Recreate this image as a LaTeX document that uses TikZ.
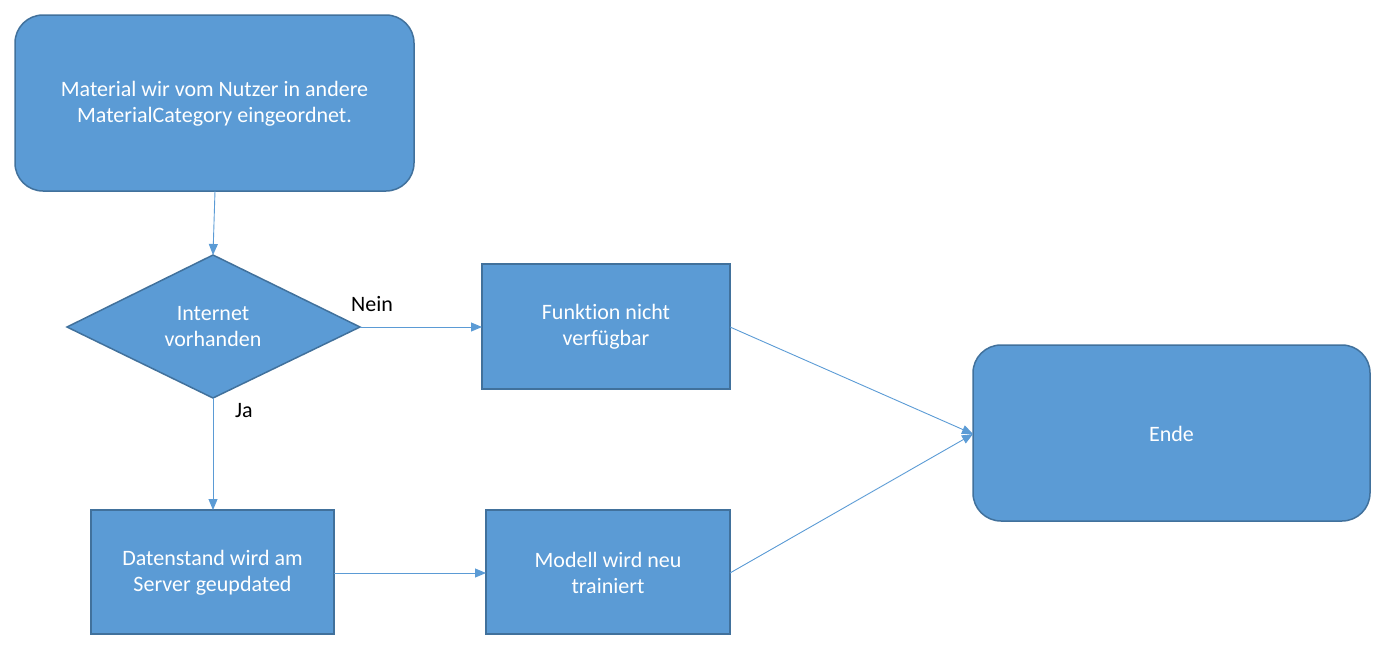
\documentclass[tikz,border=0pt]{standalone}
\usepackage{fontspec}
\setmainfont[Ligatures=NoCommon]{Carlito}
\usetikzlibrary{shapes.geometric,arrows.meta}
\definecolor{fillb}{HTML}{5B9BD5}
\definecolor{drawb}{HTML}{41719C}
\definecolor{lineb}{HTML}{5B9BD5}
\begin{document}
\begin{tikzpicture}[x=1pt,y=-1pt,
  base/.style={fill=fillb,draw=drawb,line width=1.5pt},
  rbox/.style={base,rounded corners=28pt},
  sbox/.style={base},
  txt/.style={text=white,font=\fontsize{22}{26}\selectfont,align=center,inner sep=0pt},
  conn/.style={draw=lineb,line width=0.9pt,-{Triangle[length=11pt,width=9pt]}},
  lbl/.style={font=\fontsize{22}{26}\selectfont,text=black,inner sep=0pt}]
\useasboundingbox (0,0) rectangle (1398,657);
\path[rbox] (15,15) rectangle (414,191);
\node[txt] (top) at (214.5,104) {Material wir vom Nutzer in andere\\MaterialCategory eingeordnet.};
\coordinate (topb) at (215,191);
\draw[base] (213,255) -- (360,327) -- (213,398) -- (67,327) -- cycle;
\node[txt] (dia) at (213,327) {Internet\\vorhanden};
\coordinate (diat) at (213,255);
\coordinate (diar) at (360,327);
\coordinate (diab) at (213,398);
\path[sbox] (482,264) rectangle (730,389);
\node[txt] (fn) at (606,327) {Funktion nicht\\verfügbar};
\coordinate (fnl) at (482,327);
\coordinate (fnr) at (730,327);
\path[rbox] (973,345) rectangle (1370,521);
\node[txt] (ende) at (1171.5,434) {Ende};
\coordinate (endl) at (973,434);
\path[sbox] (91,510) rectangle (334,634);
\node[txt] (ds) at (212.5,573) {Datenstand wird am\\Server geupdated};
\coordinate (dst) at (213,510);
\coordinate (dsr) at (334,573);
\path[sbox] (486,510) rectangle (730,634);
\node[txt] (mo) at (608,573) {Modell wird neu\\trainiert};
\coordinate (mol) at (486,573);
\coordinate (mor) at (730,573);
\draw[conn] (topb) -- (diat);
\draw[conn] (diar) -- (fnl);
\draw[conn] (diab) -- (dst);
\draw[conn] (dsr) -- (mol);
\draw[conn] (fnr) -- (endl);
\draw[conn] (mor) -- (endl);
\node[lbl] (nein) at (372,304) {Nein};
\node[lbl] (ja) at (244,411) {Ja};
\end{tikzpicture}
\end{document}
